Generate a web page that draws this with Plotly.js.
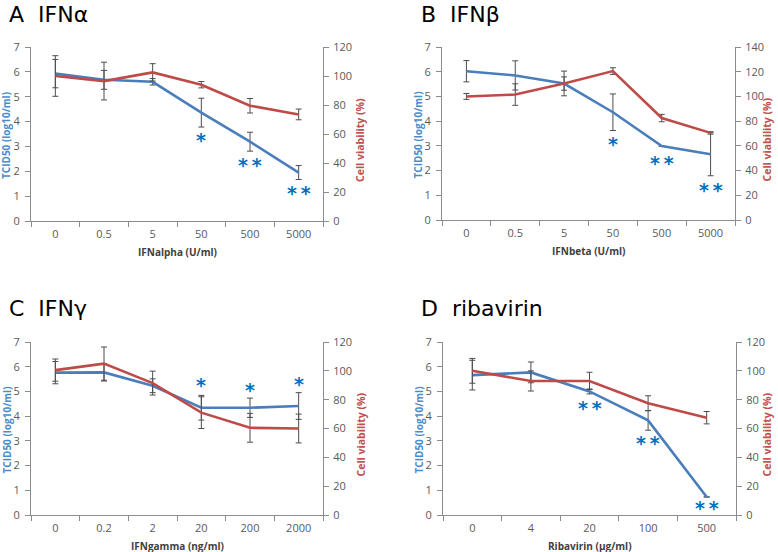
<!DOCTYPE html>
<html>
<head>
<meta charset="utf-8">
<script src="https://cdn.plot.ly/plotly-3.0.1.min.js"></script>
<style>html,body{margin:0;padding:0;background:#fff;}#chart{width:778px;height:552px;}</style>
</head>
<body>
<div id="chart"></div>
<script>
// ---- Panel A: IFN alpha ----
var catsA = ['0', '0.5', '5', '50', '500', '5000'];
var tcidA = [5.93, 5.68, 5.60, 4.36, 3.19, 1.95];
var tcidErrA = [0.57, 0.38, 0.13, 0.58, 0.38, 0.28];
var viabA = [100, 96.5, 102.5, 94, 79.5, 73.5];
var viabErrA = [14, 13, 6, 2.2, 5, 3.7];
var sigA = ['', '', '', '*', '**', '**'];
var sigYA = [null, null, null, 3.33, 2.35, 1.22];

// ---- Panel B: IFN beta ----
var catsB = ['0', '0.5', '5', '50', '500', '5000'];
var tcidB = [6.02, 5.85, 5.52, 4.36, 2.99, 2.66];
var tcidErrB = [0.43, 0.59, 0.27, 0.74, 0, 0.87];
var viabB = [100, 101.5, 110.5, 120.5, 82.5, 70.5];
var viabErrB = [2.4, 8.7, 10, 2.7, 3, 1];
var sigB = ['', '', '', '*', '**', '**'];
var sigYB = [null, null, null, 3.17, 2.40, 1.28];

// ---- Panel C: IFN gamma ----
var catsC = ['0', '0.2', '2', '20', '200', '2000'];
var tcidC = [5.76, 5.77, 5.23, 4.34, 4.34, 4.41];
var tcidErrC = [0.45, 0.35, 0.28, 0.5, 0.39, 0.54];
var viabC = [100.5, 105, 91.5, 71, 60.5, 60];
var viabErrC = [7.7, 11.5, 8.3, 11, 10, 10];
var sigC = ['', '', '', '*', '*', '*'];
var sigYC = [null, null, null, 5.33, 5.15, 5.38];

// ---- Panel D: ribavirin ----
var catsD = ['0', '4', '20', '100', '500'];
var tcidD = [5.66, 5.77, 5.00, 3.83, 0.73];
var tcidErrD = [0.6, 0.42, 0.1, 0.4, 0];
var viabD = [100, 93, 93, 77.5, 67.5];
var viabErrD = [8.6, 7, 6, 5.2, 4.3];
var sigD = ['', '', '**', '**', '**'];
var sigYD = [null, null, 4.40, 2.99, 0.36];

var panelTitles = ['A  IFNα', 'B  IFNβ', 'C  IFNγ', 'D  ribavirin'];
var xTitles = ['IFNalpha (U/ml)', 'IFNbeta (U/ml)', 'IFNgamma (ng/ml)', 'Ribavirin (µg/ml)'];
var leftTitle = 'TCID50 (log10/ml)';
var rightTitle = 'Cell viability (%)';
var rightMax = [120, 140, 120, 120];

var W = 778, H = 552;
var BLUE = '#4A7EBB', RED = '#BE4B48', STAR = '#0070C0';
var AXC = '#8c8c8c', TXT = '#595959';
var FONT = 'Open Sans, Liberation Sans, sans-serif';

// pixel boxes [left, right, top, bottom]
var boxes = [[31, 323, 47, 221], [442, 735, 47, 220], [31, 323, 342, 515], [443, 736, 342, 515]];
var titlePos = [[7, 14], [419, 14], [7, 308], [419, 308]];
var rightTitleX = [360, 766, 360, 766];

var panels = [
  {cats: catsA, t: tcidA, te: tcidErrA, v: viabA, ve: viabErrA, sig: sigA, sy: sigYA},
  {cats: catsB, t: tcidB, te: tcidErrB, v: viabB, ve: viabErrB, sig: sigB, sy: sigYB},
  {cats: catsC, t: tcidC, te: tcidErrC, v: viabC, ve: viabErrC, sig: sigC, sy: sigYC},
  {cats: catsD, t: tcidD, te: tcidErrD, v: viabD, ve: viabErrD, sig: sigD, sy: sigYD}
];

var data = [];
var layout = {
  width: W, height: H,
  margin: {l: 0, r: 0, t: 0, b: 0},
  paper_bgcolor: '#fff', plot_bgcolor: 'rgba(0,0,0,0)',
  showlegend: false,
  font: {family: FONT, color: TXT, size: 10},
  annotations: []
};

function axName(prefix, n) { return prefix + (n === 1 ? '' : n); }

panels.forEach(function (p, i) {
  var b = boxes[i];
  var xn = i + 1, yl = 2 * i + 1, yr = 2 * i + 2;
  var xd = [b[0] / W, b[1] / W];
  var yd = [1 - b[3] / H, 1 - b[2] / H];
  var xref = axName('x', xn), ylref = axName('y', yl), yrref = axName('y', yr);

  data.push({
    x: p.cats, y: p.t, xaxis: xref, yaxis: ylref, type: 'scatter', mode: 'lines',
    line: {color: BLUE, width: 2.6},
    error_y: {type: 'data', array: p.te, visible: true, color: '#4d4d4d', thickness: 1, width: 3},
    hoverinfo: 'skip'
  });
  data.push({
    x: p.cats, y: p.v, xaxis: xref, yaxis: yrref, type: 'scatter', mode: 'lines',
    line: {color: RED, width: 2.6},
    error_y: {type: 'data', array: p.ve, visible: true, color: '#4d4d4d', thickness: 1, width: 3},
    hoverinfo: 'skip'
  });

  layout[axName('xaxis', xn)] = {
    domain: xd, anchor: ylref, type: 'category', range: [-0.5, p.cats.length - 0.5],
    showline: true, linecolor: AXC, linewidth: 1, ticks: 'outside', tickson: 'boundaries',
    ticklen: 5, tickcolor: AXC, showgrid: false, zeroline: false, fixedrange: true,
    ticklabelstandoff: 3,
    tickfont: {family: FONT, size: 11, color: TXT}
  };
  layout[axName('yaxis', yl)] = {
    domain: yd, anchor: xref, range: [0, 7], dtick: 1, tick0: 0,
    showline: true, linecolor: AXC, ticks: 'outside', ticklen: 5, tickcolor: AXC,
    showgrid: false, zeroline: false, fixedrange: true, ticklabelstandoff: 3,
    tickfont: {family: FONT, size: 11, color: TXT}
  };
  layout[axName('yaxis', yr)] = {
    overlaying: ylref, anchor: xref, side: 'right', range: [0, rightMax[i]], dtick: 20, tick0: 0,
    showline: true, linecolor: AXC, ticks: 'outside', ticklen: 5, tickcolor: AXC,
    showgrid: false, zeroline: false, fixedrange: true, ticklabelstandoff: 2,
    tickfont: {family: FONT, size: 11, color: TXT}
  };

  // panel title
  layout.annotations.push({
    text: panelTitles[i], xref: 'paper', yref: 'paper',
    x: titlePos[i][0] / W, y: 1 - titlePos[i][1] / H, xanchor: 'left', yanchor: 'middle',
    showarrow: false, font: {family: 'DejaVu Sans, sans-serif', size: 22, color: '#000'}
  });
  // x axis title
  layout.annotations.push({
    text: '<b>' + xTitles[i] + '</b>', xref: 'paper', yref: 'paper',
    x: (b[0] + b[1]) / 2 / W, y: 1 - (b[3] + 31) / H, xanchor: 'center', yanchor: 'middle',
    showarrow: false, font: {family: FONT, size: 10, color: '#404040'}
  });
  // left y title
  layout.annotations.push({
    text: '<b>' + leftTitle + '</b>', xref: 'paper', yref: 'paper', textangle: -90,
    x: (b[0] - 25) / W, y: 1 - ((b[2] + b[3]) / 2 + 2) / H, xanchor: 'center', yanchor: 'middle',
    showarrow: false, font: {family: FONT, size: 10, color: '#4A8CCB'}
  });
  // right y title
  layout.annotations.push({
    text: '<b>' + rightTitle + '</b>', xref: 'paper', yref: 'paper', textangle: -90,
    x: rightTitleX[i] / W, y: 1 - ((b[2] + b[3]) / 2 + 6) / H, xanchor: 'center', yanchor: 'middle',
    showarrow: false, font: {family: FONT, size: 10.5, color: '#C0504D'}
  });
  // significance stars
  p.sig.forEach(function (s, k) {
    if (!s) return;
    layout.annotations.push({
      text: '<b>' + s.split('').join('\u2009') + '</b>', xref: xref, yref: ylref,
      x: k, y: p.sy[k], xanchor: 'center', yanchor: 'middle', yshift: -2,
      showarrow: false, font: {family: 'DejaVu Sans, sans-serif', size: 19, color: STAR}
    });
  });
});

Plotly.newPlot('chart', data, layout, {staticPlot: true, displayModeBar: false});
</script>
</body>
</html>
